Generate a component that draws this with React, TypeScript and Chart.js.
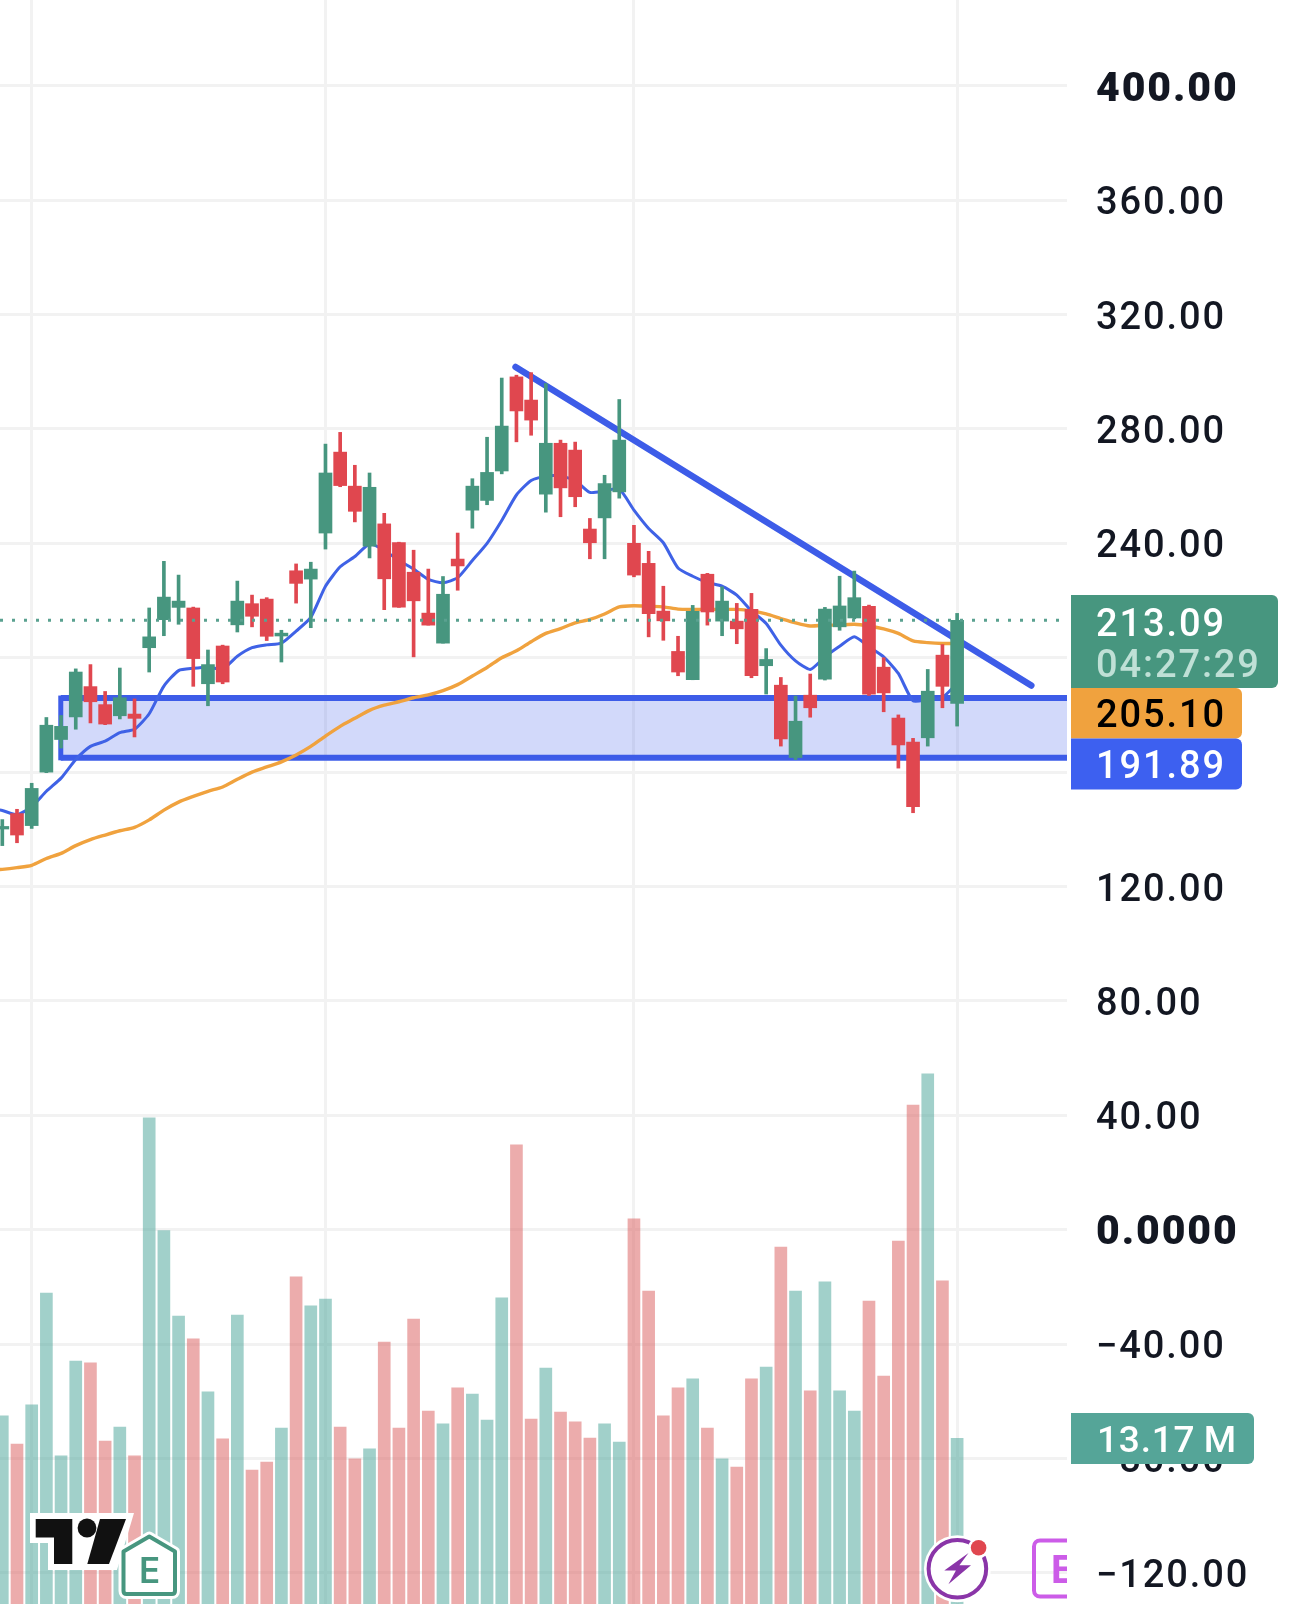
import React, { useEffect, useRef } from "react";
import { Chart, registerables } from "chart.js";

Chart.register(...registerables);

const opens = [140.1,145.5,141.3,160.0,171.4,179.3,189.9,183.6,179.7,180.3,203.5,213.3,217.6,217.4,190.9,204.1,211.5,218.9,220.5,207.6,230.4,227.5,243.6,271.9,260.0,239.0,246.8,240.3,229.9,215.6,205.1,234.5,251.6,255.0,265.3,298.2,290.1,257.2,275.0,272.6,245.0,248.9,258.0,240.0,233.0,216.3,202.2,192.3,229.2,212.8,212.8,216.9,197.2,190.4,165.1,186.9,192.5,210.8,213.9,218.0,196.7,178.9,170.5,172.0,200.9,184.0];
const closes = [141.0,138.0,154.3,176.4,176.0,195.0,184.6,176.8,186.0,178.8,207.3,221.2,219.8,199.7,197.6,191.5,219.8,214.5,207.5,208.6,226.0,231.0,264.6,260.2,251.2,259.6,227.6,217.7,219.9,211.4,222.2,232.1,260.0,264.8,281.0,286.3,283.1,275.0,259.4,256.3,240.2,260.9,276.1,228.9,215.4,212.9,195.0,216.2,216.0,219.8,210.1,193.7,199.4,171.6,177.8,182.5,217.0,218.1,221.0,187.3,187.7,169.5,147.9,188.3,190.0,213.1];
const highs = [143.4,147.0,156.1,179.1,179.8,196.1,197.6,188.2,196.4,185.6,217.4,233.7,228.9,217.7,202.7,204.4,226.8,221.9,221.0,209.6,232.8,233.4,274.7,278.8,267.3,264.6,250.5,240.4,237.6,231.0,228.4,243.6,262.6,277.1,297.8,298.8,299.7,295.9,276.1,275.4,248.7,263.8,290.3,246.3,237.2,225.0,207.5,218.3,229.5,224.8,219.0,222.5,203.2,193.1,186.6,194.3,217.6,228.5,230.3,218.4,200.0,180.0,171.8,195.9,204.6,215.5];
const lows = [134.3,135.3,140.3,159.8,168.4,175.0,177.2,176.6,178.6,172.3,195.0,207.7,211.7,190.0,183.2,190.9,209.0,210.8,206.0,198.5,219.1,210.5,238.0,259.8,247.5,234.9,216.8,217.6,200.3,211.4,205.1,223.6,245.3,253.5,264.3,275.5,277.8,250.9,249.3,252.8,234.6,234.6,255.8,228.3,207.3,206.1,193.7,192.3,211.4,207.7,204.9,193.0,187.3,169.1,164.4,179.2,192.2,209.6,213.6,186.8,181.1,161.4,145.8,169.1,182.5,176.1];
const volumes = [14.96,12.73,15.85,24.73,11.79,19.32,19.19,12.97,14.08,11.79,38.67,29.7,22.91,21.09,16.87,13.14,22.99,10.66,11.29,14.0,26.03,23.71,24.26,14.08,11.54,12.34,20.84,14.0,22.66,15.35,14.33,17.2,16.7,14.63,24.35,36.52,14.71,18.77,15.27,14.49,13.2,14.33,12.89,30.64,24.9,14.96,17.2,17.92,14.0,11.54,10.9,17.92,18.85,28.4,24.9,16.95,25.62,16.95,15.35,24.1,18.14,28.87,39.69,42.18,25.7,13.17];
// The two averages start one bar before the first candle, so they reach the left edge.
const fastAverage = [147.6,146.6,145.1,147.9,153.3,157.9,164.4,169.0,170.8,173.8,175.0,180.4,190.1,195.5,196.3,196.7,196.0,200.5,203.5,204.5,205.1,209.3,214.1,225.0,231.8,235.4,239.8,237.6,234.0,231.0,227.4,226.2,228.0,234.0,240.0,248.0,256.9,262.0,263.5,263.5,262.0,257.8,258.3,259.0,251.6,245.2,240.2,231.4,228.5,226.3,225.0,221.9,216.4,212.0,204.4,198.9,195.9,200.3,204.0,207.3,203.8,200.3,194.5,184.9,185.4,186.1,191.0];
const slowAverage = [125.6,126.0,126.6,127.4,129.8,131.6,134.3,136.4,138.0,139.5,140.7,143.3,146.7,149.5,151.5,153.3,154.8,157.5,160.0,161.8,163.6,166.0,169.0,172.6,176.0,178.8,181.6,183.4,184.6,186.0,187.0,188.5,190.6,193.6,196.6,200.0,202.4,205.6,208.5,210.2,212.2,213.4,215.3,217.8,218.2,218.0,217.8,217.0,216.9,216.9,216.9,216.9,216.4,215.3,213.7,212.2,211.1,211.4,211.4,211.7,211.1,210.1,208.5,205.9,205.3,205.0,205.0];
const tickValues = [400,360,320,280,240,200,160,120,80,40,0,-40,-80,-120];
const verticalGridAt = [2,22,43,65];
const lastPrice = 213.09;
const zoneTop = 185.9;
const zoneBottom = 165.0;
const zoneStart = 3.98;
const trendX = [34.94,70.05];
const trendY = [301.7,190.3];
const countdown = "04:27:29";
const slowTag = "205.10";
const fastTag = "191.89";
const volumeTag = "13.17\u2009M";

const GREEN = "#47967f";
const RED = "#e0474f";
const BLUE = "#3d5ce8";
const ORANGE = "#f0a23e";
const FONT = "Roboto, Inter, sans-serif";
const XMIN = -0.157;
const XMAX = 72.48;
const SPACING = "1.9px";

function roundTag(ctx: CanvasRenderingContext2D, x: number, y: number, w: number, h: number, r: number[], fill: string) {
  ctx.beginPath();
  ctx.roundRect(x, y, w, h, r);
  ctx.fillStyle = fill;
  ctx.fill();
}

function label(ctx: CanvasRenderingContext2D, s: string, x: number, y: number, color: string, size = 38, spacing = SPACING) {
  ctx.font = `500 ${size}px ${FONT}`;
  ctx.fillStyle = color;
  ctx.textAlign = "left";
  ctx.textBaseline = "middle";
  (ctx as any).letterSpacing = spacing;
  ctx.fillText(s, x, y);
  (ctx as any).letterSpacing = "0px";
}

const overlay = {
  id: "overlay",
  beforeDraw(chart: any) {
    chart.ctx.letterSpacing = SPACING;
  },
  afterDraw(chart: any) {
    const ctx: CanvasRenderingContext2D = chart.ctx;
    ctx.save();
    // price tags
    roundTag(ctx, 1071, 595, 207, 93, [0, 6, 6, 0], GREEN);
    label(ctx, lastPrice.toFixed(2), 1096, 626, "#ffffff");
    label(ctx, countdown, 1096, 667, "#bfe0d6");
    roundTag(ctx, 1071, 688, 171, 50.5, [0, 6, 6, 0], ORANGE);
    label(ctx, slowTag, 1096, 717.5, "#000000");
    roundTag(ctx, 1071, 738.5, 171, 51, [0, 6, 6, 0], "#3d60f0");
    label(ctx, fastTag, 1096, 768.5, "#ffffff");
    roundTag(ctx, 1071, 1413, 183, 51, [0, 6, 6, 0], "#55a598");
    label(ctx, volumeTag, 1097, 1443, "#ffffff", 37, "0.8px");

    // TradingView mark
    ctx.fillStyle = "#ffffff";
    ctx.beginPath();
    ctx.moveTo(30, 1513); ctx.lineTo(134, 1513); ctx.lineTo(117, 1570);
    ctx.lineTo(48, 1570); ctx.lineTo(48, 1543); ctx.lineTo(30, 1543);
    ctx.closePath(); ctx.fill();
    ctx.fillStyle = "#111111";
    ctx.beginPath();
    ctx.moveTo(35.7, 1519); ctx.lineTo(72.3, 1519); ctx.lineTo(72.3, 1564);
    ctx.lineTo(54, 1564); ctx.lineTo(54, 1537.4); ctx.lineTo(35.7, 1537.4);
    ctx.closePath(); ctx.fill();
    ctx.beginPath(); ctx.arc(87, 1528, 9.4, 0, Math.PI * 2); ctx.fill();
    ctx.beginPath();
    ctx.moveTo(100, 1519); ctx.lineTo(126, 1519); ctx.lineTo(109, 1564); ctx.lineTo(87.3, 1564);
    ctx.closePath(); ctx.fill();

    // Earnings badge
    const house = new Path2D();
    house.moveTo(149.3, 1536.5);
    house.lineTo(175, 1551.5);
    house.lineTo(175, 1591);
    house.quadraticCurveTo(175, 1594, 172, 1594);
    house.lineTo(126.5, 1594);
    house.quadraticCurveTo(123.5, 1594, 123.5, 1591);
    house.lineTo(123.5, 1551.5);
    house.closePath();
    ctx.lineJoin = "round";
    ctx.strokeStyle = "#ffffff"; ctx.lineWidth = 10; ctx.stroke(house);
    ctx.fillStyle = "#ffffff"; ctx.fill(house);
    ctx.strokeStyle = GREEN; ctx.lineWidth = 4; ctx.stroke(house);
    ctx.font = `600 35px Inter, sans-serif`;
    ctx.fillStyle = GREEN;
    ctx.textAlign = "center"; ctx.textBaseline = "alphabetic";
    ctx.fillText("E", 149.5, 1583);

    // Lightning badge
    ctx.fillStyle = "#ffffff";
    ctx.beginPath(); ctx.arc(957.4, 1568.7, 33.5, 0, Math.PI * 2); ctx.fill();
    ctx.strokeStyle = "#8a35a8"; ctx.lineWidth = 4;
    ctx.beginPath(); ctx.arc(957.4, 1568.7, 28.8, 0, Math.PI * 2); ctx.stroke();
    ctx.fillStyle = "#8a35a8";
    ctx.beginPath();
    ctx.moveTo(968.5, 1553); ctx.lineTo(944.3, 1570.4); ctx.lineTo(955.9, 1570.4);
    ctx.lineTo(948.4, 1584.3); ctx.lineTo(971, 1565.2); ctx.lineTo(959.4, 1565.2);
    ctx.closePath(); ctx.fill();
    ctx.fillStyle = "#ffffff";
    ctx.beginPath(); ctx.arc(978.6, 1547.8, 10.5, 0, Math.PI * 2); ctx.fill();
    ctx.fillStyle = RED;
    ctx.beginPath(); ctx.arc(978.6, 1547.8, 7.8, 0, Math.PI * 2); ctx.fill();

    // Clipped event badge at the pane edge
    ctx.save();
    ctx.beginPath(); ctx.rect(1020, 1530, 47, 74); ctx.clip();
    ctx.strokeStyle = "#cc5ce8"; ctx.lineWidth = 4;
    ctx.beginPath(); ctx.roundRect(1034, 1540.5, 60, 56, 6); ctx.stroke();
    ctx.font = `700 38px Inter, sans-serif`;
    ctx.fillStyle = "#cc5ce8";
    ctx.textAlign = "left";
    ctx.fillText("E", 1051, 1583);
    ctx.restore();
    ctx.restore();
  },
};

function priceLabel(v: number) {
  if (v === 0) return "0.0000";
  return (v < 0 ? "\u2212" : "") + Math.abs(v).toFixed(2);
}

function noInset(s: any) {
  s.paddingTop = 0;
  s.paddingBottom = 0;
  s.paddingLeft = 0;
  s.paddingRight = 0;
}

export default function App() {
  const ref = useRef<HTMLCanvasElement | null>(null);
  useEffect(() => {
    document.body.style.margin = "0";
    const idx = opens.map((_, i) => i);
    const candleColor = idx.map((i) => (closes[i] >= opens[i] ? GREEN : RED));
    const volumeColor = idx.map((i) => (closes[i] >= opens[i] ? "rgba(67,161,149,0.5)" : "rgba(218,90,90,0.5)"));
    const line = (arr: number[]) => arr.map((y, i) => ({ x: i - 1, y }));
    const chart = new Chart(ref.current as HTMLCanvasElement, {
      type: "bar",
      plugins: [overlay],
      data: {
        datasets: [
          {
            label: "Volume", yAxisID: "vol", grouped: false, order: 20, barThickness: 12,
            data: idx.map((i) => ({ x: i, y: volumes[i] })), backgroundColor: volumeColor,
          },
          {
            type: "line", label: "Zone top", order: 12, borderColor: BLUE, borderWidth: 6, pointRadius: 0,
            data: [{ x: zoneStart, y: zoneTop }, { x: XMAX, y: zoneTop }],
            fill: { target: { value: zoneBottom } }, backgroundColor: "rgba(61,92,232,0.23)",
          },
          {
            type: "line", label: "Zone bottom", order: 12, borderColor: BLUE, borderWidth: 6, pointRadius: 0,
            data: [{ x: zoneStart, y: zoneBottom }, { x: XMAX, y: zoneBottom }],
          },
          {
            type: "line", label: "Zone left", order: 12, borderColor: BLUE, borderWidth: 5, pointRadius: 0,
            borderCapStyle: "square",
            data: [{ x: zoneStart, y: zoneBottom }, { x: zoneStart, y: zoneTop }],
          },
          {
            type: "line", label: "Slow average", order: 8, borderColor: ORANGE, borderWidth: 3.4, pointRadius: 0, tension: 0.25,
            data: line(slowAverage),
          },
          {
            type: "line", label: "Fast average", order: 7, borderColor: "#3f62e6", borderWidth: 3, pointRadius: 0, tension: 0.2,
            data: line(fastAverage),
          },
          {
            type: "line", label: "Trend", order: 6, borderColor: BLUE, borderWidth: 6.5, pointRadius: 0, borderCapStyle: "round",
            data: trendX.map((x, i) => ({ x, y: trendY[i] })),
          },
          {
            label: "Wick", grouped: false, order: 4, barThickness: 3,
            data: idx.map((i) => ({ x: i, y: [lows[i], highs[i]] })), backgroundColor: candleColor,
          },
          {
            label: "Body", grouped: false, order: 3, barThickness: 13,
            data: idx.map((i) => ({ x: i, y: [opens[i], closes[i]] })), backgroundColor: candleColor,
          },
          {
            type: "line", label: "Last price", order: 1, borderColor: "#5aa190", borderWidth: 3, borderDash: [3, 9], pointRadius: 0,
            data: [{ x: XMIN, y: lastPrice }, { x: XMAX, y: lastPrice }],
          },
        ] as any,
      },
      options: {
        responsive: false,
        animation: false,
        events: [],
        layout: { padding: 0 },
        plugins: { legend: { display: false }, tooltip: { enabled: false } },
        scales: {
          x: {
            type: "linear", min: XMIN, max: XMAX, offset: false,
            afterBuildTicks: (s: any) => { s.ticks = verticalGridAt.map((value) => ({ value })); },
            afterFit: (s: any) => { s.height = 0; noInset(s); },
            ticks: { display: false, autoSkip: false },
            grid: { color: "#f2f2f2", lineWidth: 3, drawTicks: false, offset: false },
            border: { display: false },
          },
          y: {
            position: "right", min: -130.9, max: 430,
            afterBuildTicks: (s: any) => { s.ticks = tickValues.map((value) => ({ value })); },
            afterFit: (s: any) => { s.width = 223; noInset(s); },
            ticks: {
              padding: 29,
              labelOffset: 4.5,
              autoSkip: false,
              color: "#131722",
              callback: (v: any) => priceLabel(Number(v)),
              font: (c: any) => {
                const strong = c.tick && (c.tick.value === 400 || c.tick.value === 0);
                return { family: "Roboto", size: strong ? 41 : 38, weight: strong ? "900" : "500" };
              },
            },
            grid: { color: "#f2f2f2", lineWidth: 3, drawTicks: false },
            border: { display: false },
          },
          vol: { display: false, min: 0, max: 127.6, position: "left" },
        },
      } as any,
    });
    return () => chart.destroy();
  }, []);
  return <canvas ref={ref} width={1290} height={1604} style={{ display: "block", position: "absolute", left: 0, top: 0 }} />;
}
